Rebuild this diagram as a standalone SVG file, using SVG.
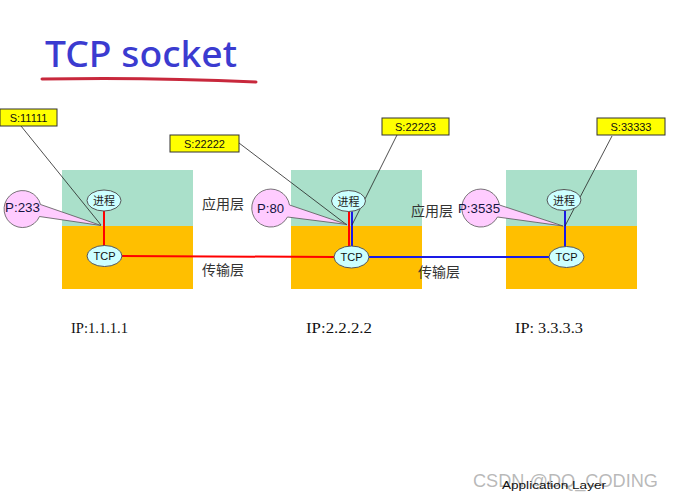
<svg xmlns="http://www.w3.org/2000/svg" width="673" height="502" viewBox="0 0 673 502">
<defs>
<style>
.app{fill:#aae0ca}
.tr{fill:#ffbf00}
.ell{fill:#ccffff;stroke:#555;stroke-width:1}
.etx{font-family:"Noto Sans CJK SC","Liberation Sans",sans-serif;font-size:11px;fill:#222;text-anchor:middle}
.ttx{font-family:"Liberation Sans",sans-serif;font-size:11px;fill:#111;text-anchor:middle}
.lab{fill:#ffff00;stroke:#333;stroke-width:1}
.ltx{font-family:"Liberation Sans",sans-serif;font-size:11px;fill:#111;text-anchor:middle}
.ptr{stroke:#222;stroke-width:0.8;fill:none}
.pink{fill:#ffccff;stroke:#555;stroke-width:0.8}
.ptx{font-family:"Liberation Sans",sans-serif;font-size:13px;fill:#141440}
.cn{font-family:"Noto Sans CJK SC",sans-serif;font-size:14px;fill:#333}
.ip{font-family:"Liberation Serif",serif;font-size:14px;fill:#111}
.red{stroke:#ff0000;stroke-width:2;fill:none}
.blue{stroke:#1a1ae6;stroke-width:2;fill:none}
</style>
</defs>
<rect width="673" height="502" fill="#ffffff"/>

<g id="title">
<text x="45" y="67" font-family="Noto Sans, sans-serif" font-size="36" font-weight="500" fill="#3b3bd0" textLength="192" lengthAdjust="spacingAndGlyphs">TCP socket</text>
<path d="M42,79 Q150,77 256,82" stroke="#c8283c" stroke-width="3" fill="none" stroke-linecap="round"/>
</g>

<g id="host1">
<rect class="app" x="62" y="170" width="131" height="56"/>
<rect class="tr" x="62" y="226" width="131" height="63"/>
</g>
<g id="host2">
<rect class="app" x="291" y="170" width="131" height="56"/>
<rect class="tr" x="291" y="226" width="131" height="63"/>
</g>
<g id="host3">
<rect class="app" x="506" y="170" width="131" height="56"/>
<rect class="tr" x="506" y="226" width="131" height="63"/>
</g>

<g id="connectors">
<line class="red" x1="104" y1="211" x2="104" y2="246"/>
<line class="red" x1="122" y1="256" x2="334" y2="257"/>
<line class="red" x1="349" y1="211" x2="349" y2="246"/>
<line class="blue" x1="352" y1="211" x2="352" y2="246"/>
<line class="blue" x1="369" y1="257" x2="549" y2="257"/>
<line class="blue" x1="565" y1="211" x2="565" y2="247"/>
<line class="ptr" x1="21" y1="126" x2="101" y2="225"/>
<line class="ptr" x1="239" y1="143" x2="347" y2="225"/>
<line class="ptr" x1="397" y1="135" x2="352" y2="225"/>
<line class="ptr" x1="612" y1="136" x2="565" y2="226"/>
</g>

<g id="proc1"><ellipse class="ell" cx="104" cy="200.5" rx="17" ry="10.5"/><text class="etx" x="104" y="205">进程</text></g>
<g id="tcp1"><ellipse class="ell" cx="104.5" cy="256" rx="17.5" ry="10.5"/><text class="ttx" x="104.5" y="260">TCP</text></g>
<g id="proc2"><ellipse class="ell" cx="348.5" cy="201" rx="17" ry="10.5"/><text class="etx" x="348.5" y="205.5">进程</text></g>
<g id="tcp2"><ellipse class="ell" cx="351.5" cy="257" rx="17.5" ry="11"/><text class="ttx" x="351.5" y="261">TCP</text></g>
<g id="proc3"><ellipse class="ell" cx="564" cy="200" rx="17" ry="10.5"/><text class="etx" x="564" y="204.5">进程</text></g>
<g id="tcp3"><ellipse class="ell" cx="566.5" cy="257" rx="17.5" ry="10.5"/><text class="ttx" x="566.5" y="261">TCP</text></g>

<g id="s11111"><rect class="lab" x="0" y="109" width="57" height="17"/><text class="ltx" x="28.5" y="121.5">S:11111</text></g>
<g id="s22222"><rect class="lab" x="170" y="135" width="69" height="17"/><text class="ltx" x="204.5" y="147.5">S:22222</text></g>
<g id="s22223"><rect class="lab" x="382" y="118" width="67" height="17"/><text class="ltx" x="415.5" y="130.5">S:22223</text></g>
<g id="s33333"><rect class="lab" x="597" y="118" width="68" height="17"/><text class="ltx" x="631" y="130.5">S:33333</text></g>

<g id="p233">
<path class="pink" d="M40.5,204.5 A18.5,18.5 0 1 0 39.5,216.5 L101,225.5 Z"/>
<text class="ptx" x="5" y="212" textLength="35" lengthAdjust="spacingAndGlyphs">P:233</text>
</g>
<g id="p80">
<path class="pink" d="M289.5,205 A19,19 0 1 0 287.5,217 L347,224.5 Z"/>
<text class="ptx" x="257" y="212.5" textLength="27" lengthAdjust="spacingAndGlyphs">P:80</text>
</g>
<g id="p3535">
<path class="pink" d="M499.5,205 A19,19 0 1 0 497.5,217 L563,226 Z"/>
<text class="ptx" x="458" y="212.5" textLength="42" lengthAdjust="spacingAndGlyphs">P:3535</text>
</g>

<g id="labels">
<text class="cn" x="202" y="209">应用层</text>
<text class="cn" x="202" y="275">传输层</text>
<text class="cn" x="411" y="216">应用层</text>
<text class="cn" x="418" y="277">传输层</text>
<text class="ip" x="71" y="333" textLength="57" lengthAdjust="spacingAndGlyphs">IP:1.1.1.1</text>
<text class="ip" x="306" y="333" textLength="66" lengthAdjust="spacingAndGlyphs">IP:2.2.2.2</text>
<text class="ip" x="515" y="333" textLength="68" lengthAdjust="spacingAndGlyphs">IP: 3.3.3.3</text>
<text x="473" y="487" font-family="Liberation Sans, sans-serif" font-size="19" fill="#9a9a9a" fill-opacity="0.7" textLength="185" lengthAdjust="spacingAndGlyphs">CSDN @DQ_CODING</text>
<text x="502" y="489" font-family="Liberation Sans, sans-serif" font-size="11" fill="#111" textLength="104" lengthAdjust="spacingAndGlyphs">Application Layer</text>
</g>
</svg>
